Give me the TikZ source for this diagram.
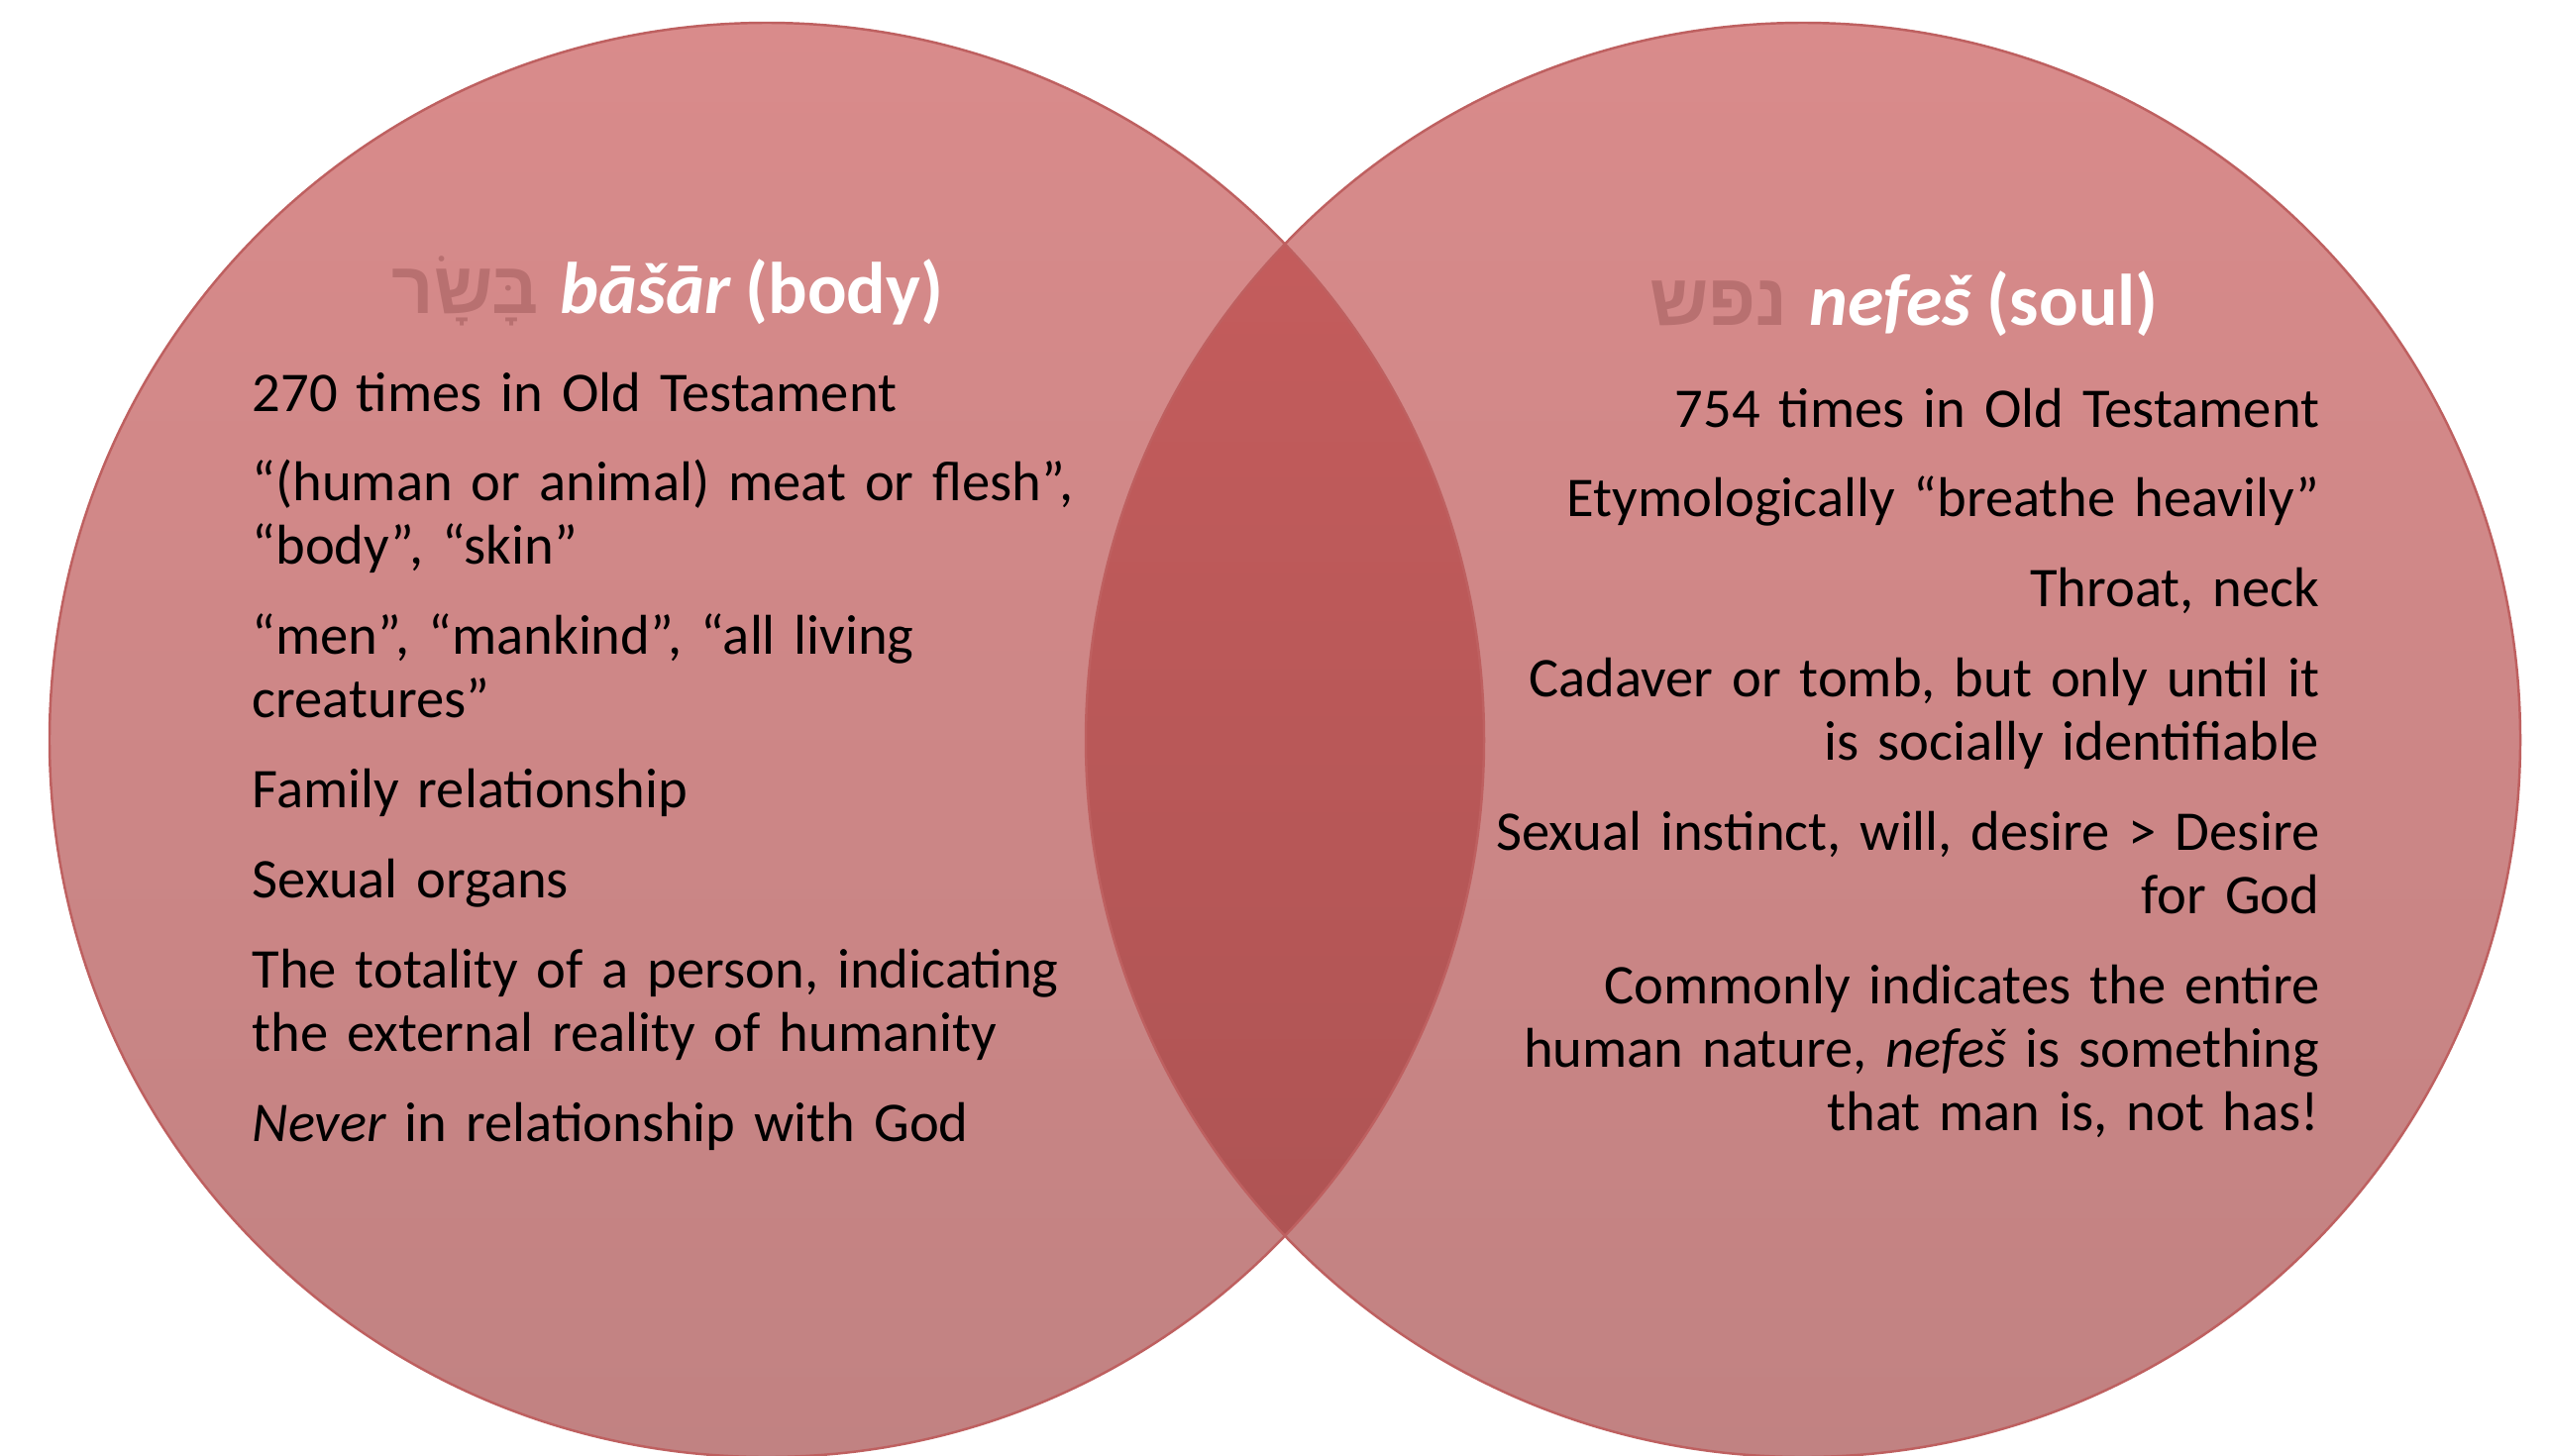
\documentclass[tikz,border=0pt]{standalone}
\usepackage{fontspec}
\setmainfont{Carlito}[WordSpace=0.85]
\newfontfamily\hebfont[Script=Hebrew]{Liberation Sans}
\TeXXeTstate=1
\usepackage{tikz}
\usetikzlibrary{positioning}
\definecolor{circtop}{RGB}{217,139,139}
\definecolor{circbot}{RGB}{193,130,130}
\definecolor{lenstop}{RGB}{200,94,94}
\definecolor{lensbot}{RGB}{170,82,82}
\definecolor{rimcol}{RGB}{190,96,96}
\definecolor{hebcol}{RGB}{184,112,112}

\begin{document}
\begin{tikzpicture}[node distance=0.255cm,
  left item/.style={text width=9cm, align=left, inner sep=0pt,
  font=\fontsize{16.1}{18.2}\selectfont},
  right item/.style={text width=9.5cm, align=right, inner sep=0pt,
  font=\fontsize{16.1}{18.2}\selectfont},
  title/.style={inner sep=0pt, text=white,
  font=\fontsize{21}{25}\selectfont\bfseries},
  rim/.style={draw=rimcol, line width=0.7pt}]
  \useasboundingbox (0,0) rectangle (25.73,-14.69);

  \coordinate (cbody) at (7.74,-7.47);
  \coordinate (csoul) at (18.20,-7.47);

  % the two sets and their overlap
  \fill[top color=circtop, bottom color=circbot] (cbody) circle (7.24);
  \fill[top color=circtop, bottom color=circbot] (csoul) circle (7.24);
  \begin{scope}
    \clip (cbody) circle (7.24);
    \fill[top color=lenstop, bottom color=lensbot] (csoul) circle (7.24);
  \end{scope}
  \draw[rim] (cbody) circle (7.24);
  \draw[rim] (csoul) circle (7.24);

  % titles
  \node[title, anchor=base] (basar) at (6.74,-3.16)
    {{\color{hebcol}\hebfont\beginR בָּשָׂר\endR}\hspace{0.3em}\textit{bāšār} (body)};
  \node[title, anchor=base] (nefes) at (19.22,-3.28)
    {{\color{hebcol}\hebfont\beginR נפש\endR}\hspace{0.3em}\textit{nefeš} (soul)};

  % body column
  \node[left item, anchor=base west] (b1) at (2.54,-4.15)
    {\strut 270 times in Old Testament\strut};
  \node[left item] (b2) [below=of b1]
    {\strut “(human or animal) meat or flesh”,\\ “body”, “skin”\strut};
  \node[left item] (b3) [below=of b2]
    {\strut “men”, “mankind”, “all living\\ creatures”\strut};
  \node[left item] (b4) [below=of b3] {\strut Family relationship\strut};
  \node[left item] (b5) [below=of b4] {\strut Sexual organs\strut};
  \node[left item] (b6) [below=of b5]
    {\strut The totality of a person, indicating\\ the external reality of humanity\strut};
  \node[left item] (b7) [below=of b6]
    {\strut \textit{Never} in relationship with God\strut};

  % soul column
  \node[right item, anchor=base east] (s1) at (23.42,-4.31)
    {\strut 754 times in Old Testament\strut};
  \node[right item] (s2) [below=of s1]
    {\strut Etymologically “breathe heavily”\strut};
  \node[right item] (s3) [below=of s2] {\strut Throat, neck\strut};
  \node[right item] (s4) [below=of s3]
    {\strut Cadaver or tomb, but only until it\\ is socially identifiable\strut};
  \node[right item] (s5) [below=of s4]
    {\strut Sexual instinct, will, desire > Desire\\ for God\strut};
  \node[right item] (s6) [below=of s5]
    {\strut Commonly indicates the entire\\ human nature, \textit{nefeš} is something\\ that man is, not has!\strut};
\end{tikzpicture}
\end{document}
